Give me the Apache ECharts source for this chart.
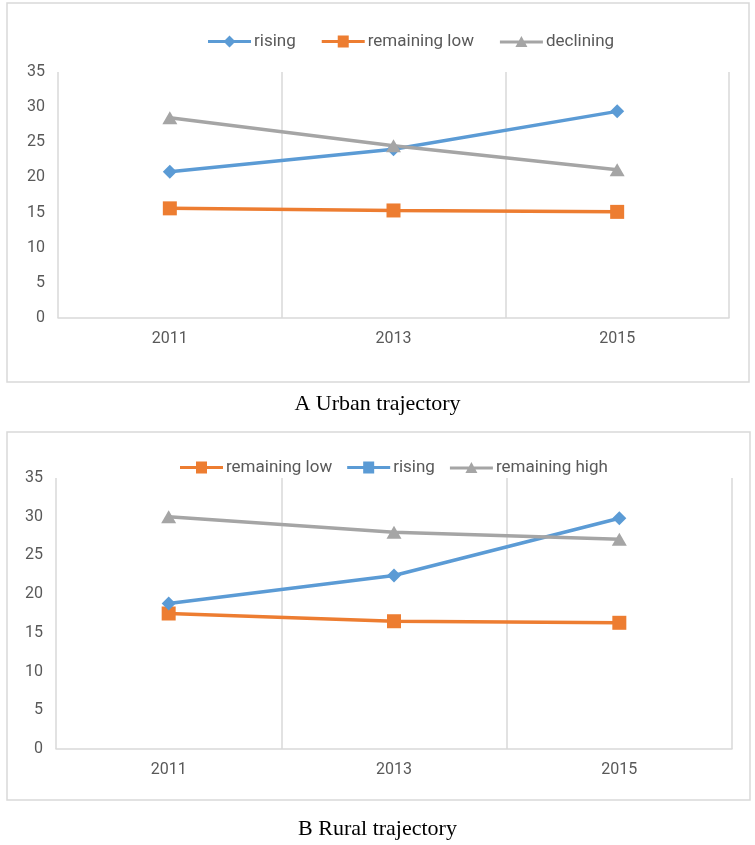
<!DOCTYPE html>
<html>
<head>
<meta charset="utf-8">
<script src="https://cdn.jsdelivr.net/npm/echarts@6/dist/echarts.min.js"></script>
<style>
  html, body { margin: 0; padding: 0; background: #ffffff; }
  #wrap { position: relative; width: 755px; height: 845px; }
  #chartA { position: absolute; left: 0; top: 0; width: 755px; height: 420px; }
  #chartB { position: absolute; left: 0; top: 420px; width: 755px; height: 425px; }
</style>
</head>
<body>
<div id="wrap">
  <div id="chartA"></div>
  <div id="chartB"></div>
</div>
<script>
// ---- data ----
const years = ['2011', '2013', '2015'];
const yTicks = [0, 5, 10, 15, 20, 25, 30, 35];

const urbanRising = [20.8, 24.0, 29.4];
const urbanLow = [15.6, 15.3, 15.1];
const urbanDeclining = [28.5, 24.5, 21.1];

const ruralLow = [17.5, 16.5, 16.3];
const ruralRising = [18.8, 22.4, 29.8];
const ruralHigh = [30.0, 28.0, 27.1];

const titleA = 'A Urban trajectory';
const titleB = 'B Rural trajectory';

// ---- style ----
const BLUE = '#5B9BD5', ORANGE = '#ED7D31', GRAY = '#A5A5A5';
const TXT = '#595959', LINE = '#D9D9D9';
const FONT = 'Roboto, "Noto Sans", sans-serif';

const ICON_DIAMOND = 'path://M0,4.5H17L21.5,0L26,4.5H43V7.5H26L21.5,12L17,7.5H0Z';
const ICON_SQUARE = 'path://M0,4.5H16V0H27V4.5H43V7.5H27V12H16V7.5H0Z';
const ICON_TRI = 'path://M0,4.5H19.05L21.5,0L23.95,4.5H43V7.5H25.59L27.5,11H15.5L17.41,7.5H0Z';

function makeSeries(name, data, color, symbol, size) {
  return {
    name: name, type: 'line', data: data,
    symbol: symbol, symbolSize: size,
    lineStyle: { color: color, width: 3.5 },
    itemStyle: { color: color },
    animation: false
  };
}

function makeOption(cfg) {
  return {
    animation: false,
    graphic: [
      { type: 'rect', shape: { x: cfg.box[0], y: cfg.box[1], width: cfg.box[2], height: cfg.box[3] },
        style: { fill: 'none', stroke: LINE, lineWidth: 1.5 }, silent: true },
      { type: 'text', left: 'center', top: cfg.titleTop,
        style: { text: cfg.title, fill: '#000000', font: '22px "Liberation Serif", "Times New Roman", serif' } }
    ],
    legend: {
      left: cfg.legendLeft, top: cfg.legendTop,
      itemWidth: 43, itemHeight: 13, itemGap: cfg.legendGap,
      textStyle: { color: TXT, fontSize: 17, fontFamily: FONT, padding: [0, 0, 0, -2] },
      data: cfg.legendData
    },
    grid: { left: cfg.grid[0], right: cfg.grid[1], top: cfg.grid[2], height: cfg.grid[3], containLabel: false },
    xAxis: {
      type: 'category', data: years, boundaryGap: true,
      axisLine: { show: true, lineStyle: { color: LINE, width: 1.5 } },
      axisTick: { show: false },
      splitLine: { show: true, lineStyle: { color: LINE, width: 1.5 } },
      axisLabel: { color: TXT, fontSize: 16, fontFamily: FONT, margin: 13 }
    },
    yAxis: {
      type: 'value', min: yTicks[0], max: yTicks[yTicks.length - 1], interval: yTicks[1] - yTicks[0],
      axisLine: { show: false }, axisTick: { show: false }, splitLine: { show: false },
      axisLabel: { color: TXT, fontSize: 16, fontFamily: FONT, margin: 13 }
    },
    series: cfg.series
  };
}

const chartA = echarts.init(document.getElementById('chartA'), null, { renderer: 'canvas' });
chartA.setOption(makeOption({
  box: [7, 3, 742, 379],
  title: titleA, titleTop: 393,
  legendLeft: 203, legendTop: 28, legendGap: 26,
  legendData: [
    { name: 'rising', icon: ICON_DIAMOND },
    { name: 'remaining low', icon: ICON_SQUARE },
    { name: 'declining', icon: ICON_TRI }
  ],
  grid: [58, 26, 72, 246],
  series: [
    makeSeries('rising', urbanRising, BLUE, 'diamond', 14),
    makeSeries('remaining low', urbanLow, ORANGE, 'rect', 14),
    makeSeries('declining', urbanDeclining, GRAY, 'triangle', [15, 13])
  ]
}));

const chartB = echarts.init(document.getElementById('chartB'), null, { renderer: 'canvas' });
chartB.setOption(makeOption({
  box: [7, 12, 743, 368],
  title: titleB, titleTop: 398,
  legendLeft: 175, legendTop: 34, legendGap: 15,
  legendData: [
    { name: 'remaining low', icon: ICON_SQUARE },
    { name: 'rising', icon: ICON_SQUARE },
    { name: 'remaining high', icon: ICON_TRI }
  ],
  grid: [56, 23, 58, 271],
  series: [
    makeSeries('remaining low', ruralLow, ORANGE, 'rect', 14),
    makeSeries('rising', ruralRising, BLUE, 'diamond', 14),
    makeSeries('remaining high', ruralHigh, GRAY, 'triangle', [15, 13])
  ]
}));
</script>
</body>
</html>
